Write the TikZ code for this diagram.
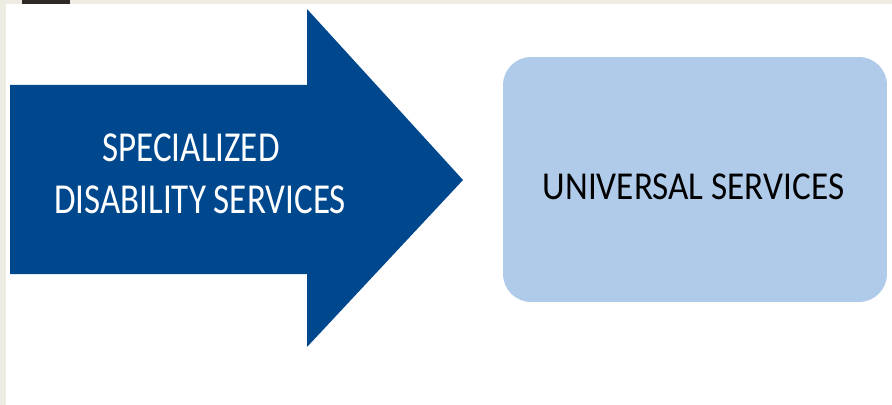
\documentclass[tikz,border=0pt]{standalone}
\usepackage{fontspec}
\setmainfont{Carlito}
\newfontfamily\arrowfont{Carlito}[FakeStretch=0.82]
\newfontfamily\boxfont{Carlito}[FakeStretch=0.89]
\definecolor{arrowblue}{HTML}{00488E}
\definecolor{boxblue}{HTML}{B0CBE9}
\definecolor{pageedge}{HTML}{EEEBE3}
\begin{document}
\begin{tikzpicture}[x=0.02cm,y=-0.02cm]
	\tikzset{
		whitetext/.style={text=white, anchor=base, inner sep=0pt, font=\arrowfont\fontsize{24.3}{28}\selectfont},
		blacktext/.style={text=black, anchor=base, inner sep=0pt, font=\boxfont\fontsize{22.5}{26}\selectfont},
		servicebox/.style={fill=boxblue, draw=none, rounded corners=0.56cm, minimum width=7.68cm, minimum height=4.9cm}
	}
	\useasboundingbox (0,0) rectangle (892,405);
	% page edge and tab
	\fill[pageedge] (0,0) rectangle (892,405);
	\fill[white] (6,4) rectangle (892,405);
	\fill[black!90!olive] (22,0) rectangle (70,4);
	% big arrow
	\fill[arrowblue] (10,85) -- (307,85) -- (307,9) -- (463,180) -- (307,347) -- (307,274) -- (10,274) -- cycle;
	\node[whitetext] (specline) at (191,162) {SPECIALIZED};
	\node[whitetext] (disline) at (200,214) {DISABILITY SERVICES};
	% target box
	\node[servicebox] (universal) at (695,179.5) {};
	\node[blacktext] (univtext) at (693.5,200) {UNIVERSAL SERVICES};
\end{tikzpicture}
\end{document}
